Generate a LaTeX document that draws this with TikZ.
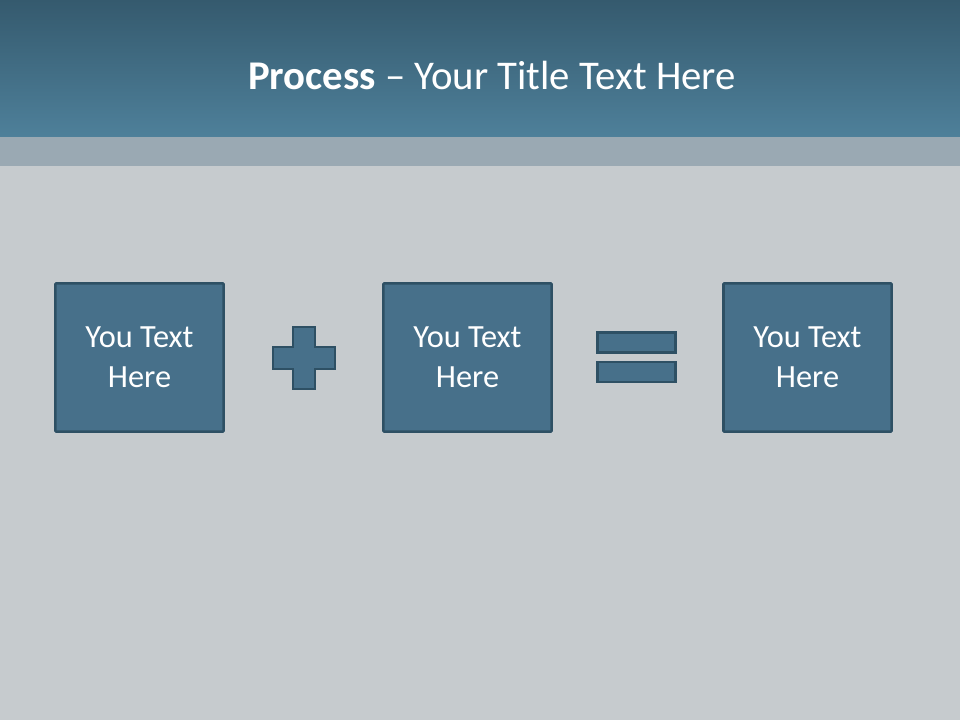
\documentclass[tikz,border=0pt]{standalone}
\usepackage{fontspec}
\setmainfont{Carlito}
\usepackage{tikz}
\usetikzlibrary{positioning, calc}
\definecolor{bartop}{RGB}{53,90,110}
\definecolor{barbot}{RGB}{78,128,154}
\definecolor{bandgrey}{RGB}{154,169,179}
\definecolor{slidebg}{RGB}{198,203,206}
\definecolor{boxfill}{RGB}{71,112,138}
\definecolor{boxedge}{RGB}{46,80,100}
\tikzset{
  txtbox/.style={rectangle, draw=boxedge, fill=boxfill,
    minimum width=4.2cm, minimum height=3.7cm, align=center,
    text=white, line width=1.8pt, rounded corners=0.5pt,
    font=\fontsize{23pt}{28.4pt}\selectfont},
  eqbar/.style={rectangle, draw=boxedge, fill=boxfill,
    minimum width=1.95cm, minimum height=0.5cm, inner sep=0pt,
    line width=1.6pt},
  symbol/.style={draw=boxedge, fill=boxfill, line width=1.6pt},
  title/.style={text=white, font=\fontsize{29pt}{34pt}\selectfont}
}
\begin{document}
\begin{tikzpicture}[x=0.025cm, y=-0.025cm]
  \useasboundingbox (0,0) rectangle (960,720);

  % Background
  \fill[slidebg] (0,0) rectangle (960,720);
  \shade[top color=bartop, bottom color=barbot] (0,0) rectangle (960,137);
  \fill[bandgrey] (0,137) rectangle (960,166);

  % Title
  \node[title] (ttl) at (492,75) {\textbf{Process} -- Your Title Text Here};

  % Boxes
  \node[txtbox] (lhs) at (139.5,357.5) {You Text\\Here};
  \node[txtbox] (mid) at (467.5,357.5) {You Text\\Here};
  \node[txtbox] (rhs) at (807.5,357.5) {You Text\\Here};

  % Plus sign
  \coordinate (plus) at (304,358);
  \draw[symbol] (plus) ++(-11,-31) -- ++(22,0) -- ++(0,20) -- ++(20,0)
    -- ++(0,22) -- ++(-20,0) -- ++(0,20) -- ++(-22,0) -- ++(0,-20)
    -- ++(-20,0) -- ++(0,-22) -- ++(20,0) -- cycle;

  % Equals sign
  \node[eqbar] (eqtop) at (636.5,342.5) {};
  \node[eqbar] (eqbot) at (636.5,372) {};
\end{tikzpicture}
\end{document}
